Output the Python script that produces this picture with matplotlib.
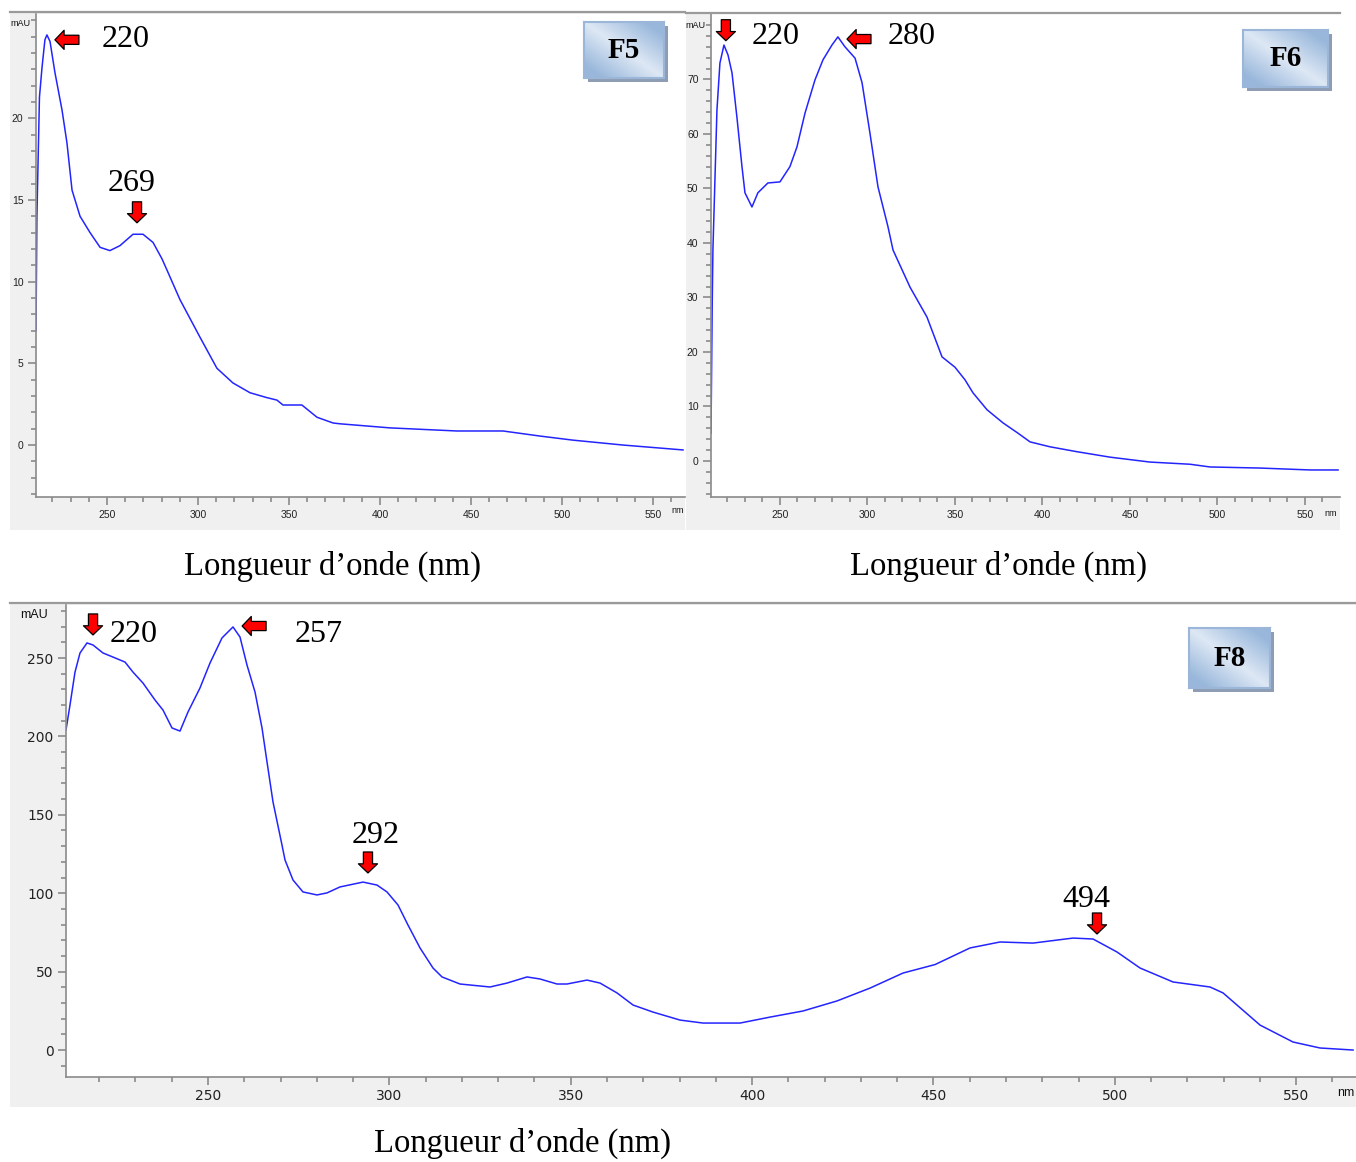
import matplotlib
matplotlib.use('Agg')
import matplotlib.pyplot as plt
import numpy as np
from matplotlib.lines import Line2D

# F5 spectrum (nm, mAU)
f5_nm = [211.0, 211.5, 212.9, 214.3, 215.9, 217.0, 218.7, 221.4, 225.3, 228.0,
         230.8, 235.2, 240.7, 246.2, 251.6, 257.1, 264.3, 269.8, 275.3, 280.2,
         283.0, 290.1, 301.1, 310.4, 319.2, 328.6, 337.9, 343.4, 346.7, 357.1,
         365.4, 374.2, 378.0, 405.5, 442.3, 467.6, 487.9, 506.0, 533.5, 566.5]
f5_mau = [7.0, 14.0, 21.3, 23.1, 24.8, 25.1, 24.7, 22.8, 20.5, 18.5,
          15.6, 14.0, 13.0, 12.1, 11.9, 12.2, 12.9, 12.9, 12.4, 11.4,
          10.7, 8.9, 6.6, 4.7, 3.8, 3.2, 2.9, 2.75, 2.45, 2.45,
          1.7, 1.35, 1.3, 1.05, 0.86, 0.86, 0.55, 0.3, 0.0, -0.3]

# F6 spectrum
f6_nm = [210.6, 211.3, 211.7, 214.0, 215.7, 218.0, 220.3, 222.6, 225.4, 228.3,
         230.0, 234.0, 237.4, 243.1, 250.0, 255.7, 259.7, 264.3, 270.0, 274.6,
         279.7, 283.1, 287.1, 292.9, 296.9, 301.4, 306.0, 311.7, 314.6, 324.3,
         334.0, 342.6, 350.0, 355.7, 360.3, 368.3, 377.4, 386.0, 392.9, 404.3,
         419.7, 438.6, 461.4, 484.3, 495.7, 524.3, 552.9, 568.9]
f6_mau = [5.1, 29.0, 38.8, 64.4, 73.0, 76.3, 74.5, 71.2, 63.1, 54.0,
          49.2, 46.6, 49.2, 51.0, 51.2, 54.0, 57.6, 63.8, 69.9, 73.6,
          76.3, 77.8, 76.0, 73.9, 69.4, 60.2, 50.3, 43.0, 38.7, 31.9,
          26.4, 19.1, 17.2, 14.9, 12.5, 9.4, 7.0, 5.1, 3.5, 2.6,
          1.7, 0.7, -0.2, -0.6, -1.1, -1.3, -1.65, -1.65]

# F8 spectrum
f8_nm = [210.85, 211.95, 213.33, 214.71, 216.64, 218.29, 221.05, 223.80, 227.12, 229.32,
         232.08, 235.39, 237.59, 240.07, 242.28, 244.49, 247.79, 250.55, 253.86, 256.89,
         258.82, 260.75, 262.96, 264.89, 266.27, 267.92, 270.40, 271.23, 273.44, 276.19,
         280.05, 282.81, 286.39, 292.73, 296.60, 299.35, 302.38, 305.14, 308.45, 312.03,
         314.52, 319.48, 327.75, 332.44, 337.95, 341.54, 346.22, 348.98, 354.49, 358.08,
         362.77, 367.18, 372.69, 380.14, 386.48, 396.68, 404.95, 414.05, 423.42, 432.52,
         441.62, 450.44, 460.09, 468.36, 477.46, 488.49, 494.00, 500.62, 506.96, 516.06,
         526.26, 529.85, 540.05, 549.15, 556.59, 565.69]
f8_mau = [204.1, 220.0, 241.0, 253.2, 259.6, 258.3, 253.2, 250.6, 247.4, 241.0,
          234.0, 223.2, 216.8, 205.4, 203.4, 215.6, 230.9, 246.8, 262.8, 269.8,
          263.4, 245.5, 228.3, 205.4, 183.7, 158.2, 130.7, 121.2, 108.4, 100.8,
          98.9, 100.2, 104.0, 107.1, 105.2, 100.8, 92.5, 79.7, 65.1, 52.3,
          46.6, 42.1, 40.2, 42.7, 46.6, 45.3, 42.1, 42.1, 44.6, 42.7,
          36.4, 28.7, 24.2, 19.1, 17.2, 17.2, 21.0, 24.9, 31.3, 39.5,
          49.1, 54.5, 65.1, 68.9, 68.2, 71.4, 70.8, 62.5, 52.3, 43.4,
          40.2, 36.4, 15.9, 5.1, 1.3, 0.0]

# peak labels: text, label pos (nm, mAU), arrow tip (nm, mAU), arrow direction
f5_peaks = [('220', (260.4, 24.8), (221.4, 24.8), 'left'),
            ('269', (263.7, 16.0), (266.5, 13.6), 'down')]
f6_peaks = [('220', (247.7, 77.8), (219.1, 77.1), 'down'),
            ('280', (325.4, 77.8), (288.3, 77.4), 'left')]
f8_peaks = [('220', (229.6, 264.7), (218.3, 264.7), 'down'),
            ('257', (280.6, 264.7), (259.4, 270.4), 'left'),
            ('292', (296.3, 137.1), (294.1, 112.9), 'down'),
            ('494', (492.3, 96.3), (495.1, 74.0), 'down')]

W, H = 1356, 1162
fig = plt.figure(figsize=(W / 100, H / 100), dpi=100)
SERIF = 'Liberation Serif'


def px_axes(x0, y0, x1, y1):
    return fig.add_axes([x0 / W, 1 - y1 / H, (x1 - x0) / W, (y1 - y0) / H])


def blank(ax, color):
    ax.set_facecolor(color)
    ax.set_xticks([])
    ax.set_yticks([])
    for s in ax.spines.values():
        s.set_visible(False)


def badge(x0, y0, x1, y1, label):
    sh = px_axes(x0 + 4, y0 + 4, x1 + 4, y1 + 4)
    blank(sh, '#8e9db3')
    b = px_axes(x0, y0, x1, y1)
    blank(b, 'white')
    U, V = np.meshgrid(np.linspace(0, 1, 120), np.linspace(0, 1, 80))
    d = np.clip(np.abs(U - V) * 1.3, 0, 1)[..., None]
    light = np.array([0.87, 0.91, 0.96])
    dark = np.array([0.60, 0.72, 0.86])
    b.imshow(light + (dark - light) * d, extent=[0, 1, 0, 1], aspect='auto')
    b.set_xlim(0, 1)
    b.set_ylim(0, 1)
    for s in b.spines.values():
        s.set_visible(True)
        s.set_color('#9cb6d9')
        s.set_linewidth(1.5)
    b.text(0.5, 0.5, label, ha='center', va='center', fontsize=21,
           fontweight='bold', family=SERIF, color='black')


def setup(ax, xlim, ylim, yticks, yminor, fs, family, lab_pad):
    ax.set_facecolor('white')
    ax.set_xlim(xlim)
    ax.set_ylim(ylim)
    for s in ('top', 'right'):
        ax.spines[s].set_visible(False)
    for s in ('left', 'bottom'):
        ax.spines[s].set_color('#8a8a8a')
        ax.spines[s].set_linewidth(1.2)
    ax.set_xticks(np.arange(250, 551, 50))
    ax.set_xticks(np.arange(220, xlim[1], 10), minor=True)
    ax.set_yticks(yticks)
    ax.set_yticks(yminor, minor=True)
    ax.tick_params(which='both', direction='out', color='#8a8a8a', width=1.2,
                   labelsize=fs, labelcolor='#222222')
    ax.tick_params(which='major', length=6, pad=lab_pad)
    ax.tick_params(which='minor', length=3.5)
    for t in ax.get_xticklabels() + ax.get_yticklabels():
        t.set_family(family)


def peaks(ax, items):
    for text, lab, tip, d in items:
        off = (24, 0) if d == 'left' else (0, 21)
        ax.annotate('', xy=tip, xytext=off, textcoords='offset pixels',
                    arrowprops=dict(arrowstyle='simple,head_length=0.6,head_width=1.25,tail_width=0.6',
                                    fc='#ff0000', ec='black', lw=0.9, mutation_scale=11,
                                    shrinkA=0, shrinkB=0))
        ax.text(lab[0], lab[1], text, ha='center', va='center', fontsize=23, family=SERIF)


line_kw = dict(color='#2424ff', lw=1.1)

# panel frames
for box in [(10, 12, 685, 530), (686, 12, 1340, 530), (10, 603, 1356, 1107)]:
    blank(px_axes(*box), '#f0f0f0')

# F5
ax5 = px_axes(36, 14, 685, 497)
ax5.plot(f5_nm, f5_mau, **line_kw)
setup(ax5, (211.0, 567.6), (-3.18, 26.38), [0, 5, 10, 15, 20],
      np.arange(-3, 27, 1), 7.5, 'Liberation Sans', 3)
peaks(ax5, f5_peaks)

# F6
ax6 = px_axes(711, 14, 1340, 497)
ax6.plot(f6_nm, f6_mau, **line_kw)
setup(ax6, (210.6, 570.0), (-6.61, 82.0), np.arange(0, 71, 10),
      np.arange(-6, 82, 2), 7.5, 'Liberation Sans', 3)
peaks(ax6, f6_peaks)

# F8
ax8 = px_axes(66, 605, 1356, 1077)
ax8.plot(f8_nm, f8_mau, **line_kw)
setup(ax8, (210.85, 566.5), (-17.2, 283.8), np.arange(0, 251, 50),
      np.arange(-10, 281, 10), 10, 'DejaVu Sans', 3)
peaks(ax8, f8_peaks)

badge(584, 22, 664, 78, 'F5')
badge(1243, 30, 1328, 87, 'F6')
badge(1189, 628, 1270, 688, 'F8')

# top border lines of the screenshots
for x0, x1, y in [(10, 685, 12), (686, 1340, 13), (10, 1356, 603)]:
    fig.add_artist(Line2D([x0 / W, x1 / W], [1 - y / H] * 2, color='#9a9a9a', lw=1.6,
                          transform=fig.transFigure))

# unit labels
for x, y, s, fs in [(20, 24, 'mAU', 6.5), (695, 25, 'mAU', 6.5), (34, 615, 'mAU', 9),
                    (678, 511, 'nm', 6.5), (1331, 513, 'nm', 6.5), (1346, 1093, 'nm', 9)]:
    fig.text(x / W, 1 - y / H, s, ha='center', va='center', fontsize=fs,
             family='Liberation Sans', color='#111111')

for x, y in [(333, 566), (998, 566), (523, 1143)]:
    fig.text(x / W, 1 - y / H, 'Longueur d\u2019onde (nm)', ha='center', va='center',
             fontsize=23.5, family=SERIF)

fig.savefig('out.png', dpi=100)
